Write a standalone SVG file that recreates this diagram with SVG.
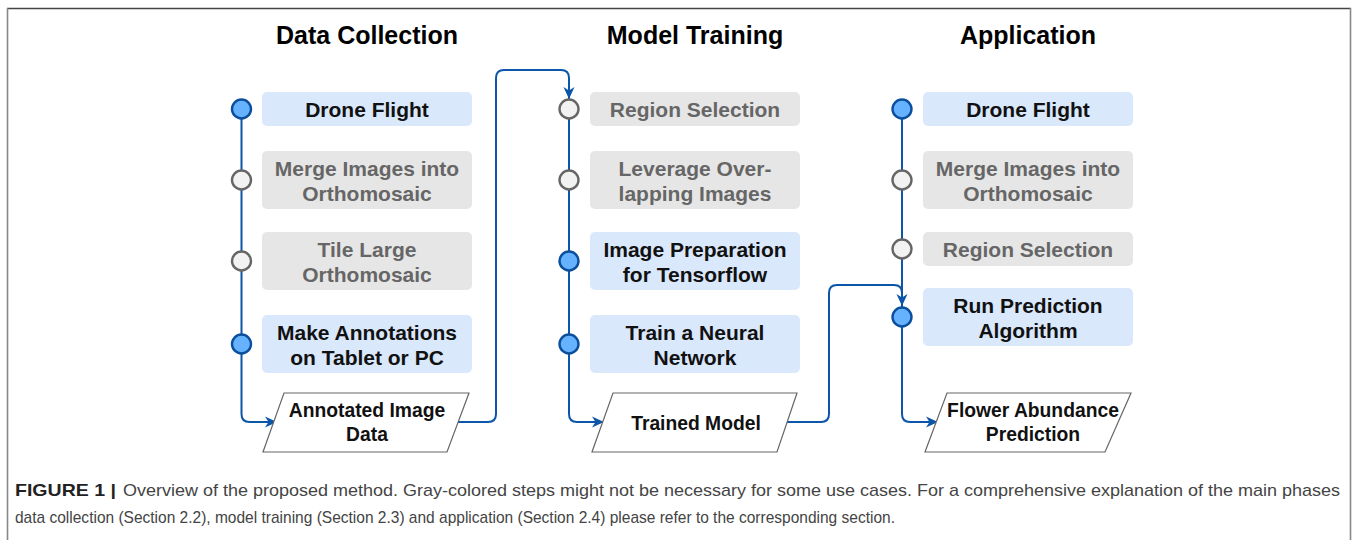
<svg xmlns="http://www.w3.org/2000/svg" width="1358" height="540" viewBox="0 0 1358 540">
  <style>
    .frame-top { stroke: #444; stroke-width: 1.6; }
    .frame-side { stroke: #888; stroke-width: 1.6; }
    .heading { font-family: "Liberation Sans", Arial, sans-serif; font-weight: bold; font-size: 25px; fill: #000; text-anchor: middle; }
    .box-blue { fill: #dae8fc; }
    .box-gray { fill: #e6e6e6; }
    .txt { font-family: "Liberation Sans", Arial, sans-serif; font-weight: bold; font-size: 21px; text-anchor: middle; }
    .txt-blue { fill: #111; }
    .txt-gray { fill: #666; }
    .dot-blue { fill: #66b2ff; stroke: #0b4f9c; stroke-width: 2.4; }
    .dot-gray { fill: #f2f2f2; stroke: #666; stroke-width: 2.4; }
    .io { fill: #fff; stroke: #666; stroke-width: 1.2; }
    .io-txt { font-family: "Liberation Sans", Arial, sans-serif; font-weight: bold; font-size: 19.3px; fill: #111; text-anchor: middle; }
    .flow { fill: none; stroke: #0b56a8; stroke-width: 2; }
    .cap { font-family: "Liberation Sans", Arial, sans-serif; font-size: 17px; fill: #444; }
    .cap-b { font-weight: bold; fill: #222; }
  </style>
  <defs>
    <marker id="arrow" markerUnits="userSpaceOnUse" markerWidth="14" markerHeight="12" refX="12" refY="6" orient="auto">
      <path d="M0,0.5 L12,6 L0,11.5 L3.5,6 Z" fill="#0b56a8"/>
    </marker>
  </defs>

  <!-- figure frame -->
  <line class="frame-top" x1="7" y1="8.5" x2="1351" y2="8.5"/>
  <line class="frame-side" x1="7.5" y1="8" x2="7.5" y2="540"/>
  <line class="frame-side" x1="1350.5" y1="8" x2="1350.5" y2="540"/>

  <!-- phase headings -->
  <text class="heading" x="367" y="44">Data Collection</text>
  <text class="heading" x="695" y="44">Model Training</text>
  <text class="heading" x="1028" y="44">Application</text>

  <!-- connectors -->
  <g id="connectors">
    <path class="flow" d="M241.5,109 V414 Q241.5,422 249.5,422 H277" marker-end="url(#arrow)"/>
    <path class="flow" d="M457,422 H488 Q496,422 496,414 V78 Q496,70 504,70 H561 Q569,70 569,78 V99" marker-end="url(#arrow)"/>
    <path class="flow" d="M569,109 V414 Q569,422 577,422 H604" marker-end="url(#arrow)"/>
    <path class="flow" d="M786,422 H821 Q829,422 829,414 V293 Q829,285 837,285 H894 Q902,285 902,293 V306" marker-end="url(#arrow)"/>
    <path class="flow" d="M902,109 V414 Q902,422 910,422 H938" marker-end="url(#arrow)"/>
  </g>

  <!-- Data Collection -->
  <g id="dc-drone-flight">
    <rect class="box-blue" x="262" y="92" width="210" height="34" rx="5"/>
    <circle class="dot-blue" cx="241.5" cy="109" r="9.5"/>
    <text class="txt txt-blue" x="367" y="116.5">Drone Flight</text>
  </g>
  <g id="dc-merge-images">
    <rect class="box-gray" x="262" y="151" width="210" height="58" rx="5"/>
    <circle class="dot-gray" cx="241.5" cy="180" r="9.5"/>
    <text class="txt txt-gray" x="367" y="175.5">Merge Images into</text>
    <text class="txt txt-gray" x="367" y="200.5">Orthomosaic</text>
  </g>
  <g id="dc-tile-large">
    <rect class="box-gray" x="262" y="232" width="210" height="58" rx="5"/>
    <circle class="dot-gray" cx="241.5" cy="261" r="9.5"/>
    <text class="txt txt-gray" x="367" y="256.5">Tile Large</text>
    <text class="txt txt-gray" x="367" y="281.5">Orthomosaic</text>
  </g>
  <g id="dc-annotations">
    <rect class="box-blue" x="262" y="315" width="210" height="58" rx="5"/>
    <circle class="dot-blue" cx="241.5" cy="344" r="9.5"/>
    <text class="txt txt-blue" x="367" y="339.5">Make Annotations</text>
    <text class="txt txt-blue" x="367" y="364.5">on Tablet or PC</text>
  </g>
  <g id="dc-annotated-data">
    <polygon class="io" points="284,393 469,393 447,452 263,452"/>
    <text class="io-txt" x="367" y="417">Annotated Image</text>
    <text class="io-txt" x="367" y="441">Data</text>
  </g>

  <!-- Model Training -->
  <g id="mt-region-selection">
    <rect class="box-gray" x="590" y="92" width="210" height="34" rx="5"/>
    <circle class="dot-gray" cx="569" cy="109" r="9.5"/>
    <text class="txt txt-gray" x="695" y="116.5">Region Selection</text>
  </g>
  <g id="mt-leverage">
    <rect class="box-gray" x="590" y="151" width="210" height="58" rx="5"/>
    <circle class="dot-gray" cx="569" cy="180" r="9.5"/>
    <text class="txt txt-gray" x="695" y="175.5">Leverage Over-</text>
    <text class="txt txt-gray" x="695" y="200.5">lapping Images</text>
  </g>
  <g id="mt-image-prep">
    <rect class="box-blue" x="590" y="232" width="210" height="58" rx="5"/>
    <circle class="dot-blue" cx="569" cy="261" r="9.5"/>
    <text class="txt txt-blue" x="695" y="256.5">Image Preparation</text>
    <text class="txt txt-blue" x="695" y="281.5">for Tensorflow</text>
  </g>
  <g id="mt-train-network">
    <rect class="box-blue" x="590" y="315" width="210" height="58" rx="5"/>
    <circle class="dot-blue" cx="569" cy="344" r="9.5"/>
    <text class="txt txt-blue" x="695" y="339.5">Train a Neural</text>
    <text class="txt txt-blue" x="695" y="364.5">Network</text>
  </g>
  <g id="mt-trained-model">
    <polygon class="io" points="613,393 797,393 777,452 592,452"/>
    <text class="io-txt" x="696" y="430">Trained Model</text>
  </g>

  <!-- Application -->
  <g id="ap-drone-flight">
    <rect class="box-blue" x="923" y="92" width="210" height="34" rx="5"/>
    <circle class="dot-blue" cx="902" cy="109" r="9.5"/>
    <text class="txt txt-blue" x="1028" y="116.5">Drone Flight</text>
  </g>
  <g id="ap-merge-images">
    <rect class="box-gray" x="923" y="151" width="210" height="58" rx="5"/>
    <circle class="dot-gray" cx="902" cy="180" r="9.5"/>
    <text class="txt txt-gray" x="1028" y="175.5">Merge Images into</text>
    <text class="txt txt-gray" x="1028" y="200.5">Orthomosaic</text>
  </g>
  <g id="ap-region-selection">
    <rect class="box-gray" x="923" y="232" width="210" height="34" rx="5"/>
    <circle class="dot-gray" cx="902" cy="249" r="9.5"/>
    <text class="txt txt-gray" x="1028" y="256.5">Region Selection</text>
  </g>
  <g id="ap-run-prediction">
    <rect class="box-blue" x="923" y="288" width="210" height="58" rx="5"/>
    <circle class="dot-blue" cx="902" cy="317" r="9.5"/>
    <text class="txt txt-blue" x="1028" y="312.5">Run Prediction</text>
    <text class="txt txt-blue" x="1028" y="337.5">Algorithm</text>
  </g>
  <g id="ap-flower-abundance">
    <polygon class="io" points="947,393 1131,393 1105,452 925,452"/>
    <text class="io-txt" x="1033" y="417">Flower Abundance</text>
    <text class="io-txt" x="1033" y="441">Prediction</text>
  </g>

  <!-- caption -->
  <text class="cap" y="496"><tspan class="cap-b" x="15" textLength="101" lengthAdjust="spacingAndGlyphs">FIGURE 1 |</tspan><tspan x="123" textLength="1217" lengthAdjust="spacingAndGlyphs">Overview of the proposed method. Gray-colored steps might not be necessary for some use cases. For a comprehensive explanation of the main phases</tspan></text>
  <text class="cap" x="15" y="523" textLength="880" lengthAdjust="spacingAndGlyphs">data collection (Section 2.2), model training (Section 2.3) and application (Section 2.4) please refer to the corresponding section.</text>
</svg>
